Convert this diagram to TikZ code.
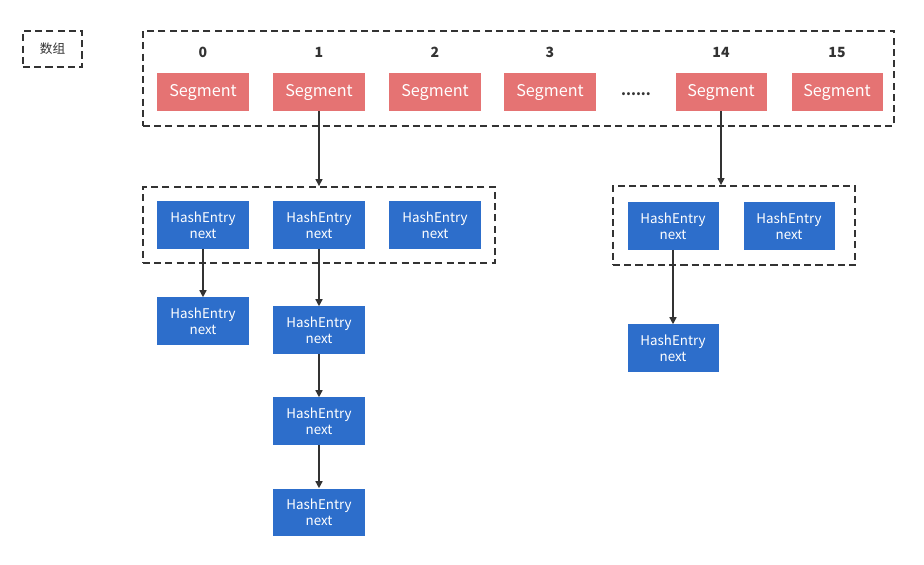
\documentclass[tikz,border=0pt]{standalone}
\usepackage{fontspec}
\setmainfont{Noto Sans CJK SC}
\usetikzlibrary{positioning, arrows.meta}
\definecolor{segRed}{RGB}{229, 115, 115}
\definecolor{entryBlue}{RGB}{45, 110, 203}
\definecolor{lineGray}{RGB}{51, 51, 51}

\tikzset{
  dashbox/.style={draw=lineGray, line width=1.3pt, dash pattern=on 5pt off 3pt, inner sep=0pt},
  segbox/.style={fill=segRed, text=white, minimum width=2.275cm, minimum height=0.95cm, inner sep=0pt, text height=8pt, text depth=1pt, font=\fontsize{11.5}{13}\selectfont},
  entrybox/.style={fill=entryBlue, text=white, align=center, minimum width=2.275cm, minimum height=1.175cm, inner sep=0pt, font=\fontsize{9.5}{11.5}\selectfont},
  idx/.style={font=\bfseries\fontsize{10}{12}\selectfont, text=lineGray},
  link/.style={-{Triangle[length=5pt, width=5pt]}, draw=lineGray, line width=1pt}
}

\begin{document}
\begin{tikzpicture}[x=0.025cm, y=-0.025cm]
  \useasboundingbox (0, 0) rectangle (924, 564);

  % legend
  \node[dashbox, minimum width=1.475cm, minimum height=0.9cm, font=\fontsize{9}{11}\selectfont, text=lineGray] (legend) at (52.5, 49) {数组};

  % segment array
  \node[dashbox, minimum width=18.775cm, minimum height=2.375cm] (array) at (518.5, 78.5) {};
  \node[segbox] (seg0) at (203, 92) {Segment};
  \node[segbox] (seg1) at (319, 92) {Segment};
  \node[segbox] (seg2) at (435, 92) {Segment};
  \node[segbox] (seg3) at (550, 92) {Segment};
  \node[segbox] (seg14) at (721, 92) {Segment};
  \node[segbox] (seg15) at (837, 92) {Segment};
  \node[font=\bfseries, text=lineGray] (dots) at (636, 94) {......};

  \node[idx] (i0) at (203, 52) {0};
  \node[idx] (i1) at (319, 52) {1};
  \node[idx] (i2) at (435, 52) {2};
  \node[idx] (i3) at (550, 52) {3};
  \node[idx] (i14) at (721, 52) {14};
  \node[idx] (i15) at (837, 52) {15};

  % table of segment 1
  \node[dashbox, minimum width=8.8cm, minimum height=1.9cm] (tabA) at (319, 225) {};
  \node[entrybox] (a0) at (203, 225) {HashEntry\\next};
  \node[entrybox] (a1) at (319, 225) {HashEntry\\next};
  \node[entrybox] (a2) at (435, 225) {HashEntry\\next};
  \node[entrybox] (a0n) at (203, 321) {HashEntry\\next};
  \node[entrybox] (a1n) at (319, 330) {HashEntry\\next};
  \node[entrybox] (a1nn) at (319, 421) {HashEntry\\next};
  \node[entrybox] (a1nnn) at (319, 512) {HashEntry\\next};

  % table of segment 14
  \node[dashbox, minimum width=6.05cm, minimum height=1.975cm] (tabB) at (734, 225.5) {};
  \node[entrybox] (b0) at (673, 226) {HashEntry\\next};
  \node[entrybox] (b1) at (789, 226) {HashEntry\\next};
  \node[entrybox] (b0n) at (673, 348) {HashEntry\\next};

  \draw[link] (seg1.south) -- (seg1.south |- tabA.north);
  \draw[link] (seg14.south) -- (seg14.south |- tabB.north);
  \draw[link] (a0) -- (a0n);
  \draw[link] (a1) -- (a1n);
  \draw[link] (a1n) -- (a1nn);
  \draw[link] (a1nn) -- (a1nnn);
  \draw[link] (b0) -- (b0n);
\end{tikzpicture}
\end{document}
